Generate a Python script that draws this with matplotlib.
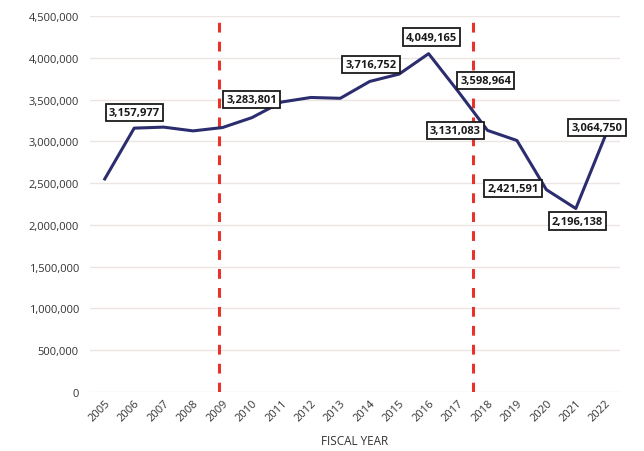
import matplotlib
matplotlib.use("Agg")
import matplotlib.pyplot as plt
from matplotlib.ticker import FuncFormatter, MultipleLocator

plt.rcParams['font.family'] = ['Open Sans', 'DejaVu Sans']

# Annual totals by fiscal year
years = [2005, 2006, 2007, 2008, 2009, 2010, 2011, 2012, 2013,
         2014, 2015, 2016, 2017, 2018, 2019, 2020, 2021, 2022]
totals = [2550000, 3157977, 3170000, 3125000, 3165000, 3283801, 3470000,
          3525000, 3515000, 3716752, 3805000, 4049165, 3598964, 3131083,
          3010000, 2421591, 2196138, 3064750]

# Years whose values are called out, with label offsets (points)
labelled_years = [2006, 2010, 2014, 2016, 2017, 2018, 2020, 2021, 2022]
label_offsets = [(0, 11), (0, 13), (1, 12), (2, 12), (20, 8), (-23, 0),
                 (-24, 1), (1, -9), (-6, 6)]

# Period boundaries marked with dashed lines
boundaries = [2008.87, 2017.5]

fig = plt.figure(figsize=(6.44, 4.52), dpi=100)
ax = fig.add_axes([0.1398, 0.1305, 0.8229, 0.8319])

ax.set_xlim(2004.5, 2022.5)
ax.set_ylim(0, 4500000)

ax.yaxis.set_major_locator(MultipleLocator(500000))
ax.yaxis.set_major_formatter(FuncFormatter(lambda v, p: f"{int(v):,}"))
ax.set_xticks(years)
ax.set_xticklabels([str(y) for y in years], rotation=45, ha='right',
                   rotation_mode='anchor')

ax.grid(axis='y', color='#ebe6e3', linewidth=1.0)
ax.set_axisbelow(True)
for s in ax.spines.values():
    s.set_visible(False)
ax.tick_params(axis='both', length=0, colors='#333333', labelsize=8)
ax.tick_params(axis='y', pad=8)
ax.tick_params(axis='x', pad=4)

for b in boundaries:
    ax.axvline(b, color='#e8322a', linewidth=2.2, dashes=(3.2, 3.0), zorder=2)

ax.plot(years, totals, color='#2b2d6e', linewidth=2.2, zorder=3)

for yr, (dx, dy) in zip(labelled_years, label_offsets):
    v = totals[years.index(yr)]
    ax.annotate(f"{v:,}", xy=(yr, v), xytext=(dx, dy),
                textcoords='offset points', ha='center', va='center',
                fontsize=8, fontweight='bold', color='#1a1a1a', zorder=5,
                bbox=dict(boxstyle='square,pad=0.28', fc='white',
                          ec='#1a1a1a', lw=1.3))

ax.set_xlabel("FISCAL YEAR", fontsize=8.5, color='#333333', labelpad=8)

fig.savefig("out.png", dpi=100, facecolor='white')
